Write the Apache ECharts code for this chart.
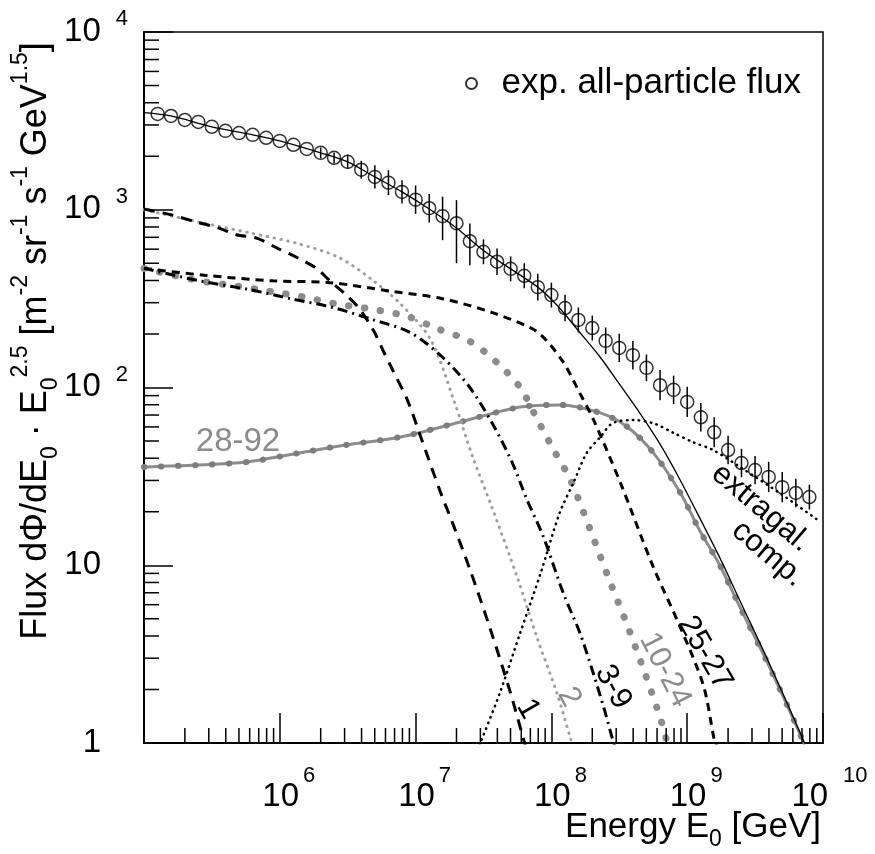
<!DOCTYPE html>
<html>
<head>
<meta charset="utf-8">
<style>
  html, body { margin: 0; padding: 0; background: #fff; }
  #chart { width: 875px; height: 854px; }
</style>
<script src="https://cdn.jsdelivr.net/npm/echarts@6/dist/echarts.min.js"></script>
</head>
<body>
<div id="chart"></div>
<script>
// measured all-particle flux, E0 in GeV, flux scaled by E^2.5
const fluxE = [1.26e5, 1.58e5, 2.0e5, 2.51e5, 3.16e5, 3.98e5, 5.01e5, 6.31e5, 7.94e5,
  1.0e6, 1.26e6, 1.58e6, 2.0e6, 2.51e6, 3.16e6, 3.98e6, 5.01e6, 6.31e6, 7.94e6,
  1.0e7, 1.26e7, 1.58e7, 2.0e7, 2.51e7, 3.16e7, 3.98e7, 5.01e7, 6.31e7, 7.94e7,
  1.0e8, 1.26e8, 1.58e8, 2.0e8, 2.51e8, 3.16e8, 3.98e8, 5.01e8, 6.31e8, 7.94e8,
  1.0e9, 1.26e9, 1.58e9, 2.0e9, 2.51e9, 3.16e9, 3.98e9, 5.01e9, 6.31e9, 7.94e9]
const fluxVal = [3460, 3370, 3200, 3120, 2930, 2780, 2700, 2640, 2540,
  2440, 2320, 2200, 2090, 1960, 1860, 1680, 1530, 1420, 1260,
  1140, 1020, 920, 840, 665, 580, 510, 465, 425, 367,
  331, 280, 240, 216, 183, 167, 152, 129, 103, 97,
  83, 68, 56, 44.5, 37.6, 34.3, 31.4, 27.5, 25.5, 24.2]
// error bar half lengths in decades
const fluxErrUp = [0, 0, 0, 0, 0, 0, 0, 0, 0,
  0, 0, 0, 0.03, 0.03, 0.04, 0.05, 0.065, 0.07, 0.065,
  0.08, 0.08, 0.11, 0.13, 0.10, 0.07, 0.075, 0.07, 0.07, 0.075,
  0.07, 0.075, 0.07, 0.07, 0.075, 0.08, 0.08, 0.075, 0.085, 0.08,
  0.085, 0.08, 0.085, 0.08, 0.08, 0.08, 0.085, 0.085, 0.08, 0.07]
const fluxErrDn = [0, 0, 0, 0, 0, 0, 0, 0, 0,
  0, 0, 0, 0.03, 0.03, 0.04, 0.05, 0.065, 0.07, 0.065,
  0.08, 0.08, 0.135, 0.225, 0.135, 0.07, 0.075, 0.07, 0.07, 0.075,
  0.07, 0.075, 0.07, 0.07, 0.075, 0.08, 0.08, 0.075, 0.085, 0.08,
  0.085, 0.08, 0.085, 0.08, 0.08, 0.08, 0.085, 0.085, 0.08, 0.07]

// model components
const pE = [1.0e5, 1.62e5, 2.45e5, 3.47e5, 4.79e5, 6.76e5, 9.8e5, 1.35e6, 1.86e6, 2.34e6, 3.09e6,
  3.89e6, 4.9e6, 5.75e6, 6.76e6, 8.7e6, 1.07e7, 1.51e7, 1.91e7, 2.51e7, 3.55e7, 5.01e7, 6.46e7]
const pFlux = [1010, 933, 851, 794, 724, 692, 603, 537, 468, 398, 331,
  275, 209, 162, 126, 85, 55, 26.3, 16.6, 9.5, 4.37, 1.9, 0.95]

const heE = [1.0e5, 2.57e5, 6.03e5, 1.35e6, 2.75e6, 4.9e6, 7.76e6, 1.29e7, 1.91e7, 2.63e7,
  3.63e7, 5.62e7, 7.76e7, 1.1e8, 1.38e8, 1.45e8]
const heFlux = [1000, 851, 741, 646, 537, 398, 295, 186, 85, 40.7,
  21.4, 8.5, 4.0, 1.9, 1.07, 0.95]

const cnoE = [1.0e5, 2.57e5, 6.03e5, 1.2e6, 2.45e6, 4.9e6, 9.12e6, 1.58e7, 2.51e7, 3.72e7,
  5.13e7, 6.61e7, 8.71e7, 1.23e8, 1.62e8, 2.04e8, 2.45e8, 2.82e8, 2.95e8]
const cnoFlux = [468, 398, 355, 316, 282, 240, 204, 148, 100, 61.7,
  38, 23.4, 14.5, 6.9, 4.17, 2.45, 1.55, 1.05, 0.95]

const siE = [1.0e5, 2.57e5, 4.79e5, 8.51e5, 1.48e6, 2.63e6, 4.9e6, 8.71e6, 1.45e7, 2.51e7,
  3.98e7, 5.89e7, 7.76e7, 1.02e8, 1.38e8, 1.91e8, 2.63e8, 3.63e8, 4.9e8, 6.46e8, 7.24e8]
const siFlux = [468, 398, 372, 347, 324, 295, 275, 251, 214, 182,
  138, 100, 67.6, 45.7, 30.2, 16.2, 8.5, 4.57, 2.45, 1.32, 0.95]

const feE = [1.0e5, 2.88e5, 8.91e5, 2.34e6, 6.76e6, 1.58e7, 3.72e7, 7.24e7, 9.12e7, 1.23e8,
  1.62e8, 2.04e8, 3.24e8, 5.62e8, 8.91e8, 1.32e9, 1.58e9, 1.66e9]
const feFlux = [468, 427, 398, 389, 347, 316, 263, 214, 185, 138,
  93, 66, 28.8, 9.8, 4.47, 2.09, 1.05, 0.95]

const heavyE = [1.0e5, 2.45e5, 5.75e5, 1.05e6, 2.75e6, 7.76e6, 2.14e7, 5.89e7, 1.15e8, 2.29e8,
  3.63e8, 5.62e8, 8.91e8, 1.23e9, 1.74e9, 2.45e9, 4.07e9, 7.08e9, 7.41e9]
const heavyFlux = [35.7, 36.6, 38.1, 41.2, 46.9, 52.7, 64, 77.6, 79.8, 72,
  60, 43, 25.5, 15.8, 10, 5.8, 2.64, 1.04, 0.93]

const galE = [1.0e5, 1.58e5, 3.16e5, 6.31e5, 1.0e6, 2.0e6, 3.16e6, 5.01e6, 7.94e6, 1.26e7,
  2.0e7, 3.16e7, 5.01e7, 7.94e7, 1.1e8, 1.62e8, 2.29e8, 3.24e8, 4.47e8, 6.31e8,
  8.91e8, 1.23e9, 1.74e9, 2.45e9, 4.07e9, 6.76e9, 7.41e9]
const galFlux = [3520, 3370, 2930, 2640, 2440, 2090, 1860, 1530, 1260, 1010,
  790, 590, 465, 367, 290, 204, 148, 102, 72, 48,
  30, 18.6, 11, 6.3, 2.75, 1.15, 0.97]

const egE = [2.95e7, 4.17e7, 5.89e7, 8.32e7, 1.15e8, 1.45e8, 1.82e8, 2.29e8, 2.82e8, 3.98e8,
  5.62e8, 7.94e8, 1.1e9, 1.55e9, 2.45e9, 4.79e9, 9.12e9]
const egFlux = [0.97, 1.91, 4.16, 9.0, 19.7, 29, 42.8, 52.6, 63, 65.6,
  63, 55.5, 49.3, 44.5, 35.7, 25.5, 18]

const FONT = "'Liberation Sans', Arial, Helvetica, sans-serif"
const GRAY = '#8c8c8c'

const zip = (xs, ys) => xs.map((x, i) => [x, ys[i]])

const curve = (xs, ys, lineStyle, z) => ({
  type: 'line',
  data: zip(xs, ys),
  symbol: 'none',
  smooth: 0.3,
  silent: true,
  z,
  lineStyle,
})

// minor ticks of the log axes (2..9 per decade)
const minorTicks = (from, to) => {
  const out = []
  for (let e = from; e < to; e++) {
    for (let m = 2; m <= 9; m++) out.push(m * Math.pow(10, e))
  }
  return out
}

const tickLine = (horizontal) => (params, api) => {
  const p = api.coord([api.value(0), api.value(1)])
  return {
    type: 'line',
    shape: horizontal
      ? { x1: p[0], y1: p[1], x2: p[0] + 15, y2: p[1] }
      : { x1: p[0], y1: p[1], x2: p[0], y2: p[1] - 15 },
    style: { stroke: '#000', lineWidth: 1.5 },
  }
}

const label = (text, x, y, rotation, fill) => ({
  type: 'text', x, y, rotation,
  style: { text, fontSize: 31, fontFamily: FONT, fill, align: 'center', verticalAlign: 'middle' },
})

const chart = echarts.init(document.getElementById('chart'))

const option = {
  animation: false,
  grid: {
    left: 144,
    right: 52,
    top: 32,
    bottom: 111,
    show: true,
    borderColor: '#000',
    borderWidth: 1.5,
  },
  legend: {
    data: ['exp. all-particle flux'],
    left: 460,
    top: 61,
    itemWidth: 50,
    itemHeight: 11,
    selectedMode: false,
    textStyle: { fontSize: 35, fontFamily: FONT, color: '#000' },
  },
  xAxis: {
    type: 'log',
    logBase: 10,
    min: 1e5,
    max: 1e10,
    axisLine: { lineStyle: { color: '#000', width: 2 } },
    axisTick: { inside: true, length: 30, lineStyle: { color: '#000', width: 1.5 } },
    splitLine: { show: false },
    axisLabel: {
      margin: 38,
      formatter: (v) => {
        const e = Math.round(Math.log10(v))
        if (e === 5) return ''
        if (e === 10) return '{l2|}{b|10}{s2|10}'
        return '{l|}{b|10}{s|' + e + '}'
      },
      rich: {
        b: { fontSize: 33, fontFamily: FONT, color: '#000', lineHeight: 32, verticalAlign: 'bottom' },
        s: { fontSize: 22, fontFamily: FONT, color: '#000', lineHeight: 22, padding: [0, 0, 26, 4], verticalAlign: 'bottom' },
        s2: { fontSize: 22, fontFamily: FONT, color: '#000', lineHeight: 22, padding: [0, 0, 26, 15], verticalAlign: 'bottom' },
        l: { width: 18, lineHeight: 22 },
        l2: { width: 13, lineHeight: 22 },
      },
    },
  },
  yAxis: {
    type: 'log',
    logBase: 10,
    min: 1,
    max: 1e4,
    axisLine: { lineStyle: { color: '#000', width: 2 } },
    axisTick: { inside: true, length: 29, lineStyle: { color: '#000', width: 1.5 } },
    splitLine: { show: false },
    axisLabel: {
      margin: 16,
      padding: [0, 0, 0, 0],
      formatter: (v) => {
        const e = Math.round(Math.log10(v))
        if (e === 0) return '{b|1}{e| }'
        if (e === 1) return '{b|10}{e| }'
        return '{b|10}{t|' + e + '}'
      },
      rich: {
        b: { fontSize: 33, fontFamily: FONT, color: '#000', lineHeight: 32, verticalAlign: 'bottom' },
        t: { fontSize: 22, fontFamily: FONT, color: '#000', lineHeight: 22, padding: [0, 0, 18, 15], verticalAlign: 'bottom' },
        e: { width: 27, fontSize: 22, lineHeight: 22, padding: [0, 0, 18, 0], verticalAlign: 'bottom' },
      },
    },
  },
  graphic: [
    {
      type: 'text', x: 44, y: 341, rotation: Math.PI / 2,
      style: {
        text: '{b|Flux dΦ/dE}{sub|0}{b| · E}{sub|0}{sup|2.5}{b| [m}{sup|-2}{b| sr}{sup|-1}{b| s}{sup|-1}{b| GeV}{sup|1.5}{b|]}',
        align: 'center', verticalAlign: 'middle', fill: '#000',
        rich: {
          b: { fontSize: 36, fontFamily: FONT, fill: '#000', lineHeight: 36, padding: [0, 0, 8, 0], verticalAlign: 'bottom' },
          sub: { fontSize: 23, fontFamily: FONT, fill: '#000', lineHeight: 23, verticalAlign: 'bottom' },
          sup: { fontSize: 23, fontFamily: FONT, fill: '#000', lineHeight: 23, padding: [0, 0, 30, 0], verticalAlign: 'bottom' },
        },
      },
    },
    {
      type: 'text', x: 821, y: 834,
      style: {
        text: '{b|Energy E}{sub|0}{b| [GeV]}',
        align: 'right', verticalAlign: 'middle', fill: '#000',
        rich: {
          b: { fontSize: 35, fontFamily: FONT, fill: '#000', lineHeight: 35, padding: [0, 0, 7, 0], verticalAlign: 'bottom' },
          sub: { fontSize: 23, fontFamily: FONT, fill: '#000', lineHeight: 23, verticalAlign: 'bottom' },
        },
      },
    },
    { type: 'text', x: 238, y: 442, style: { text: '28-92', fontSize: 33, fontFamily: FONT, fill: GRAY, align: 'center', verticalAlign: 'middle' } },
    label('1', 528, 709, -1.05, '#000'),
    label('2', 569, 697, -1.08, GRAY),
    label('3-9', 613, 687, -1.08, '#000'),
    label('10-24', 665, 670, -1.1, GRAY),
    label('25-27', 705, 653, -1.05, '#000'),
    label('extragal.', 761, 508, -0.7, '#000'),
    label('comp.', 768, 554, -0.7, '#000'),
  ],
  series: [
    {
      type: 'custom', silent: true, z: 5,
      data: minorTicks(0, 4).map((v) => [1e5, v]),
      encode: { x: 0, y: 1 },
      renderItem: tickLine(true),
    },
    {
      type: 'custom', silent: true, z: 5,
      data: minorTicks(5, 10).map((v) => [v, 1]),
      encode: { x: 0, y: 1 },
      renderItem: tickLine(false),
    },
    curve(heavyE, heavyFlux, { color: GRAY, width: 3 }, 2),
    curve(heavyE, heavyFlux, { color: '#7d7d7d', width: 6, type: [0.5, 16.5], cap: 'round' }, 2),
    curve(heE, heFlux, { color: '#a0a0a0', width: 3, type: [0.5, 6.5], cap: 'round' }, 2),
    curve(siE, siFlux, { color: GRAY, width: 7, type: [0.5, 15.5], cap: 'round' }, 2),
    curve(pE, pFlux, { color: '#000', width: 3, type: [11, 8] }, 3),
    curve(cnoE, cnoFlux, { color: '#000', width: 3, type: [10, 5, 2, 5] }, 3),
    curve(feE, feFlux, { color: '#000', width: 3, type: [8, 6] }, 3),
    curve(egE, egFlux, { color: '#000', width: 2.5, type: [0.5, 5.5], cap: 'round' }, 3),
    curve(galE, galFlux, { color: '#000', width: 1.3 }, 4),
    {
      type: 'custom', silent: true, z: 5,
      data: fluxE.map((e, i) => [
        e,
        fluxVal[i] / Math.pow(10, fluxErrDn[i]),
        fluxVal[i] * Math.pow(10, fluxErrUp[i]),
      ]),
      encode: { x: 0, y: [1, 2] },
      renderItem: (params, api) => {
        const a = api.coord([api.value(0), api.value(1)])
        const b = api.coord([api.value(0), api.value(2)])
        return {
          type: 'line',
          shape: { x1: a[0], y1: a[1], x2: b[0], y2: b[1] },
          style: { stroke: '#000', lineWidth: 1.5 },
        }
      },
    },
    {
      name: 'exp. all-particle flux',
      type: 'scatter',
      data: zip(fluxE, fluxVal),
      symbol: 'circle',
      symbolSize: 13,
      silent: true,
      z: 6,
      itemStyle: { color: 'rgba(255,255,255,0)', borderColor: '#000', borderWidth: 1.5 },
    },
  ],
}

chart.setOption(option)
</script>
</body>
</html>
